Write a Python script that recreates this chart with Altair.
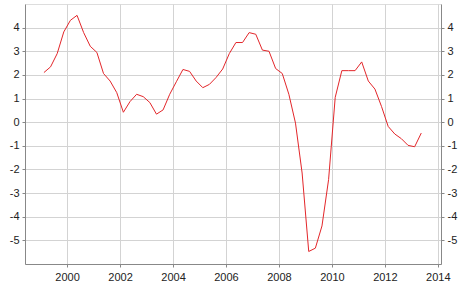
import altair as alt
import pandas as pd

start_year = 1999
values = [2.1, 2.34, 2.9, 3.82, 4.31, 4.52, 3.79, 3.21, 2.95, 2.06,
          1.74, 1.25, 0.42, 0.87, 1.18, 1.08, 0.83, 0.34, 0.52, 1.18,
          1.71, 2.23, 2.15, 1.74, 1.46, 1.6, 1.89, 2.25, 2.9, 3.37,
          3.37, 3.79, 3.72, 3.05, 3.0, 2.27, 2.06, 1.18, -0.04, -2.15,
          -5.47, -5.33, -4.39, -2.43, 1.05, 2.18, 2.18, 2.18, 2.55, 1.74,
          1.4, 0.66, -0.18, -0.5, -0.7, -0.98, -1.04, -0.46]
x_ticks = [2000, 2002, 2004, 2006, 2008, 2010, 2012, 2014]
y_ticks = [-5, -4, -3, -2, -1, 0, 1, 2, 3, 4]

t = [start_year + (i // 4) + ((i % 4) + 0.5) / 4 for i in range(len(values))]
df = pd.DataFrame({"t": t, "v": values})

font = "Liberation Sans"
xscale = alt.Scale(domain=[1998.41, 2014.12], nice=False, zero=False)
yscale = alt.Scale(domain=[-6, 5], nice=False, zero=False)

x_enc = alt.X("t:Q", scale=xscale, title=None,
              axis=alt.Axis(values=x_ticks, labelExpr="'' + datum.value",
                            grid=True, gridColor="#d3d3d3", domainColor="#888888",
                            tickColor="#888888", tickSize=3, labelPadding=4,
                            labelFont=font, labelFontSize=11, labelColor="#222222"))

def yaxis(orient):
    return alt.Axis(orient=orient, values=y_ticks, labelExpr="'' + datum.value",
                    grid=(orient == "left"), gridColor="#d3d3d3",
                    domainColor="#888888", tickColor="#888888", tickSize=3,
                    labelPadding=3, labelFont=font, labelFontSize=11,
                    labelColor="#222222")

left = alt.Chart(df).mark_line(color="#e3262a", strokeWidth=1).encode(
    x=x_enc, y=alt.Y("v:Q", scale=yscale, title=None, axis=yaxis("left")))
right = alt.Chart(df).mark_line(color="#e3262a", strokeWidth=1, opacity=0).encode(
    x=x_enc, y=alt.Y("v:Q", scale=yscale, title=None, axis=yaxis("right")))

chart = alt.layer(left, right).resolve_axis(y="independent").properties(
    width=416, height=260,
    autosize=alt.AutoSizeParams(type="none"),
    padding={"left": 25, "top": 4, "right": 25, "bottom": 43},
).configure_view(stroke=None).configure(background="white")

chart.save("out.html", embed_options={"renderer": "svg", "actions": False})
